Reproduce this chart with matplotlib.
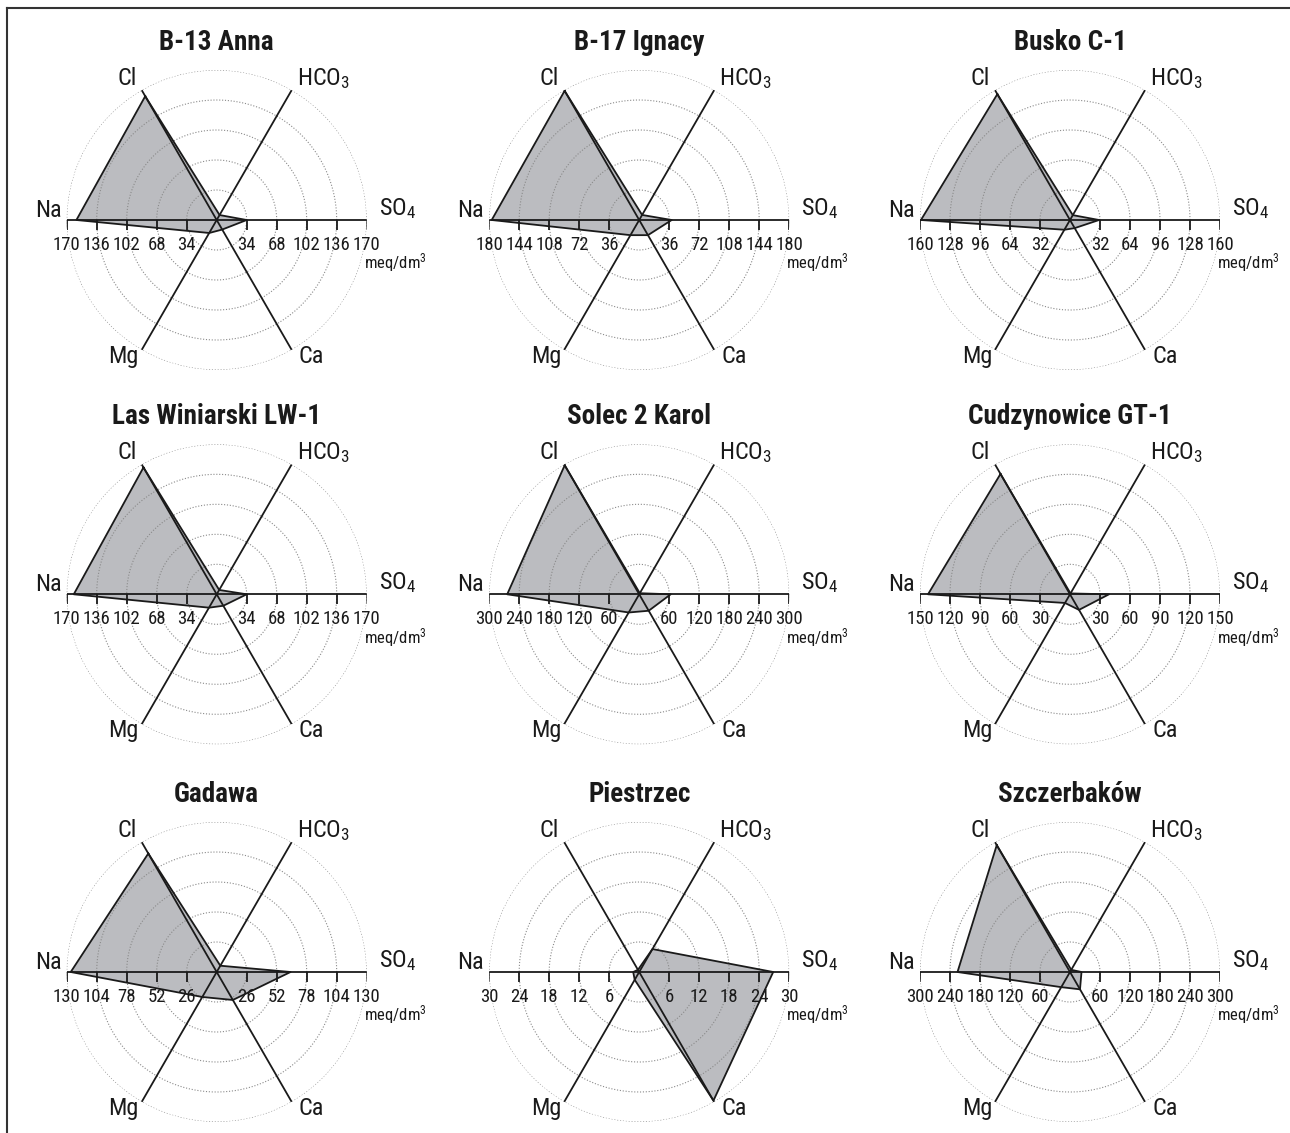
import matplotlib
matplotlib.use("Agg")
import matplotlib.pyplot as plt
import numpy as np
from matplotlib import font_manager
from matplotlib.markers import TICKDOWN
from matplotlib.lines import Line2D

# ---- data (meq/dm3) -------------------------------------------------------
stations = ["B-13 Anna", "B-17 Ignacy", "Busko C-1",
            "Las Winiarski LW-1", "Solec 2 Karol", "Cudzynowice GT-1",
            "Gadawa", "Piestrzec", "Szczerbaków"]
scale_max = [170, 180, 160, 170, 300, 150, 130, 30, 300]

cl   = [162, 179, 155, 166, 298, 139, 118.6, 0.5, 293]
hco3 = [6.5, 7, 6, 5.7, 2.5, 1, 6.3, 5.3, 5]
so4  = [34, 39, 31, 34, 63, 39, 64, 26.8, 23]
ca   = [12.5, 21, 10, 15, 38, 18, 28, 29.7, 40]
mg   = [17, 21, 12, 17.5, 42, 10, 25, 1.8, 35]
na   = [159, 177, 159, 162, 264, 142, 126.5, 1.2, 225]

ion_labels = ["Cl", "HCO$_3$", "SO$_4$", "Ca", "Mg", "Na"]
ion_angles = [120, 60, 0, 300, 240, 180]   # degrees, counter-clockwise from east

# ---- style ---------------------------------------------------------------
installed = {f.name for f in font_manager.fontManager.ttflist}
FONT = "DejaVu Sans"
for cand in ["Roboto Condensed", "Liberation Sans Narrow", "Arial Narrow",
             "Liberation Sans"]:
    if cand in installed:
        FONT = cand
        break
NARROW = FONT in ("Roboto Condensed", "Liberation Sans Narrow", "Arial Narrow")
fs_scale = 1.0 if NARROW else 0.86

plt.rcParams["font.family"] = [FONT, "DejaVu Sans"]
plt.rcParams["mathtext.fontset"] = "custom"
plt.rcParams["mathtext.rm"] = FONT
plt.rcParams["mathtext.it"] = FONT + ":italic"
plt.rcParams["mathtext.bf"] = FONT + ":bold"

W, H, DPI = 1290, 1133, 100
PX = 72 / DPI                      # points per pixel
R = 150                            # chart radius in pixels
col_x = [216.7, 639.2, 1070.0]
row_y = [220.0, 594.3, 972.0]

FILL = "#bbbcc0"
TEXT = "#1a1a1a"

fig = plt.figure(figsize=(W / DPI, H / DPI), dpi=DPI)

# label placement: (dx, dy) in pixels from the spoke end, alignment
label_pos = {
    "Cl":      (-5, 5, "right", "baseline"),
    "HCO$_3$": (5, 5, "left", "baseline"),
    "SO$_4$":  (12, 5, "left", "baseline"),
    "Ca":      (7, -13, "left", "baseline"),
    "Mg":      (-3, -13, "right", "baseline"),
    "Na":      (-5, 3, "right", "baseline"),
}

for i, name in enumerate(stations):
    cx, cy = col_x[i % 3], row_y[i // 3]
    m = scale_max[i]
    ax = fig.add_axes([(cx - R) / W, (H - cy - R) / H, 2 * R / W, 2 * R / H],
                      projection="polar")
    ax.set_theta_zero_location("E")
    ax.set_ylim(0, m)
    ax.axis("off")

    vals = [cl[i], hco3[i], so4[i], ca[i], mg[i], na[i]]
    th = np.deg2rad(ion_angles)
    th_c = np.append(th, th[0])
    v_c = np.append(vals, vals[0])

    # composition polygon fill
    ax.fill(th_c, v_c, color=FILL, lw=0, zorder=1)

    # dotted concentric circles
    ring = np.linspace(0, 2 * np.pi, 400)
    for k in range(1, 6):
        ax.plot(ring, np.full_like(ring, k * m / 5), color="#8a8a8a",
                lw=0.8, ls=(0, (1, 1.6)), zorder=2)

    # spokes
    for a in ion_angles:
        t = np.deg2rad(a)
        ax.plot([t, t], [0, m], color=TEXT, lw=1.3, zorder=3,
                solid_capstyle="butt")

    # scale ticks on the horizontal axis
    ticks = np.arange(1, 6) * m / 5
    for t in (0.0, np.pi):
        ax.plot(np.full(5, t), ticks, ls="none", marker=TICKDOWN,
                ms=10 * PX, mew=1.3, color=TEXT, zorder=3)
        for v in ticks:
            ax.annotate(f"{v:g}", xy=(t, v), xytext=(0, -16 * PX),
                        textcoords="offset points", ha="center", va="top",
                        fontsize=13.5 * fs_scale, color=TEXT,
                        annotation_clip=False)

    # polygon outline
    ax.plot(th_c, v_c, color=TEXT, lw=1.3, zorder=4)

    # ion labels
    for lab, a in zip(ion_labels, ion_angles):
        dx, dy, ha, va = label_pos[lab]
        ax.annotate(lab, xy=(np.deg2rad(a), m), xytext=(dx * PX, dy * PX),
                    textcoords="offset points", ha=ha, va=va,
                    fontsize=17.5 * fs_scale, color=TEXT,
                    annotation_clip=False)

    ax.annotate("meq/dm$^3$", xy=(0, m), xytext=(-3 * PX, -43 * PX),
                textcoords="offset points", ha="left", va="center",
                fontsize=12 * fs_scale, color=TEXT, annotation_clip=False)

    ax.annotate(name, xy=(np.pi / 2, m), xytext=(0, 28 * PX),
                textcoords="offset points", ha="center", va="center",
                fontsize=19.5 * fs_scale, fontweight="bold", color=TEXT,
                annotation_clip=False)

# frame
fig.add_artist(Line2D([7 / W, 1.0], [1 - 8 / H, 1 - 8 / H],
                      transform=fig.transFigure, color="#333333", lw=1.5))
fig.add_artist(Line2D([7 / W, 7 / W], [0.0, 1 - 8 / H],
                      transform=fig.transFigure, color="#333333", lw=1.5))

fig.savefig("out.png", dpi=DPI, facecolor="white")
